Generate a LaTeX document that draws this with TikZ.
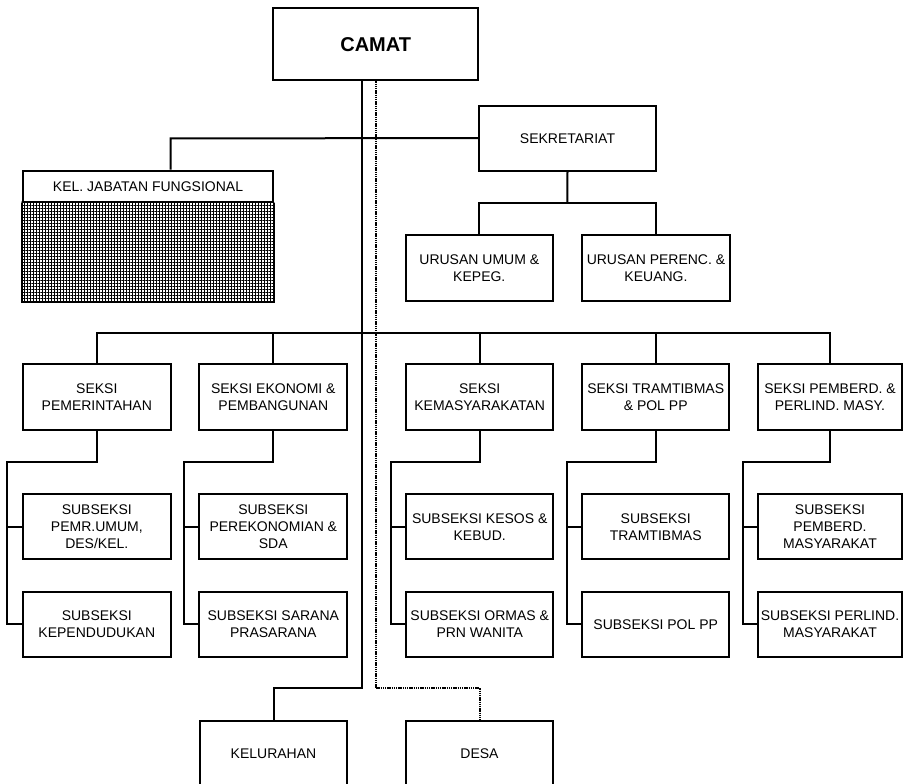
\documentclass[tikz,border=0pt]{standalone}
\usepackage{fontspec}
\setmainfont{Liberation Sans}
\usetikzlibrary{patterns.meta}
\begin{document}
\begin{tikzpicture}[x=1pt,y=-1pt,
  box/.style={draw, line width=2pt, align=center, inner sep=0pt,
    minimum width=148pt, minimum height=65.5pt,
    font=\fontsize{14}{17}\selectfont},
  link/.style={line width=2pt},
  dotline/.style={line width=2pt, dash pattern=on 1.4pt off 0.8pt}]
\useasboundingbox (0,0) rectangle (903,784);
\clip (0,0) rectangle (903,784);

% top level
\node[box, minimum width=205.3pt, minimum height=72pt, font=\fontsize{20}{24}\selectfont\bfseries] (camat) at (375.7,44.4) {CAMAT};
\node[box, minimum width=177pt, minimum height=65pt] (sek) at (567.5,138.2) {SEKRETARIAT};
\node[box, minimum width=250.6pt, minimum height=31.6pt] (jab) at (148,186.5) {KEL. JABATAN FUNGSIONAL};
\node[box, minimum width=250.6pt, minimum height=98.4pt, draw=none] (jabfill) at (148,251.5) {};
\fill[pattern={Lines[angle=0,distance=3pt,line width=0.9pt]}] (jabfill.north west) rectangle (jabfill.south east);
\fill[pattern={Lines[angle=90,distance=3pt,line width=0.9pt]}] (jabfill.north west) rectangle (jabfill.south east);
\draw[line width=2pt] (jab.south west) -- (jabfill.south west) -- (jabfill.south east) -- (jab.south east);

\node[box, minimum width=146.7pt] (uu) at (479.3,267.8) {URUSAN UMUM \&\\KEPEG.};
\node[box] (up) at (656,267.8) {URUSAN PERENC. \&\\KEUANG.};

% seksi row
\node[box] (s1) at (96.8,397.2) {SEKSI\\PEMERINTAHAN};
\node[box] (s2) at (273.3,397.2) {SEKSI EKONOMI \&\\PEMBANGUNAN};
\node[box, minimum width=147.3pt] (s3) at (479.7,397.2) {SEKSI\\KEMASYARAKATAN};
\node[box, minimum width=146.7pt] (s4) at (655.7,397.2) {SEKSI TRAMTIBMAS\\\& POL PP};
\node[box, minimum width=143.5pt] (s5) at (830,397.2) {SEKSI PEMBERD. \&\\PERLIND. MASY.};

% subseksi rows
\node[box] (a1) at (96.8,526.7) {SUBSEKSI\\PEMR.UMUM,\\DES/KEL.};
\node[box] (b1) at (96.8,624.3) {SUBSEKSI\\KEPENDUDUKAN};
\node[box] (a2) at (273.3,526.7) {SUBSEKSI\\PEREKONOMIAN \&\\SDA};
\node[box] (b2) at (273.3,624.3) {SUBSEKSI SARANA\\PRASARANA};
\node[box, minimum width=147.3pt] (a3) at (479.7,526.7) {SUBSEKSI KESOS \&\\KEBUD.};
\node[box, minimum width=147.3pt] (b3) at (479.7,624.3) {SUBSEKSI ORMAS \&\\PRN WANITA};
\node[box, minimum width=146.7pt] (a4) at (655.7,526.7) {SUBSEKSI\\TRAMTIBMAS};
\node[box, minimum width=146.7pt] (b4) at (655.7,624.3) {SUBSEKSI POL PP};
\node[box, minimum width=143.5pt] (a5) at (830,526.7) {SUBSEKSI\\PEMBERD.\\MASYARAKAT};
\node[box, minimum width=143.5pt] (b5) at (830,624.3) {SUBSEKSI PERLIND.\\MASYARAKAT};

% bottom
\node[box, minimum width=147pt] (kel) at (273.5,753.3) {KELURAHAN};
\node[box, minimum width=147pt] (desa) at (479.5,753.3) {DESA};

% coordinates for the buses
\coordinate (tA) at (361.7,688.3);
\coordinate (tB) at (376,688.3);
\coordinate (jx) at (170.7,138.3);
\coordinate (sb) at (567.3,203.3);
\coordinate (bus) at (0,332.7);
\coordinate (lb) at (0,461.7);

% trunk lines
\draw[link] (camat.south -| tA) -- (tA) -| (kel.north);
\draw[dotline] (camat.south -| tB) -- (tB) -| (desa.north);

% fungsional and sekretariat
\draw[link] (sek.west) -- (jx) -- (jab.north -| jx);
\draw[link] (sek.south) -- (sb);
\draw[link] (uu.north) -- (uu.north |- sb) -- (up.north |- sb) -- (up.north);

% seksi bus
\draw[link] (s1.north) -- (s1.north |- bus) -- (s5.north |- bus) -- (s5.north);
\foreach \i in {2,3,4}{\draw[link] (s\i.north) -- (s\i.north |- bus);}

% seksi to subseksi
\foreach \i in {1,...,5}{
  \draw[link] (s\i.south) -- (s\i.south |- lb) -| ([xshift=-14.5pt]b\i.west) -- (b\i.west);
  \draw[link] ([xshift=-14.5pt]a\i.west) -- (a\i.west);
}
\end{tikzpicture}
\end{document}
